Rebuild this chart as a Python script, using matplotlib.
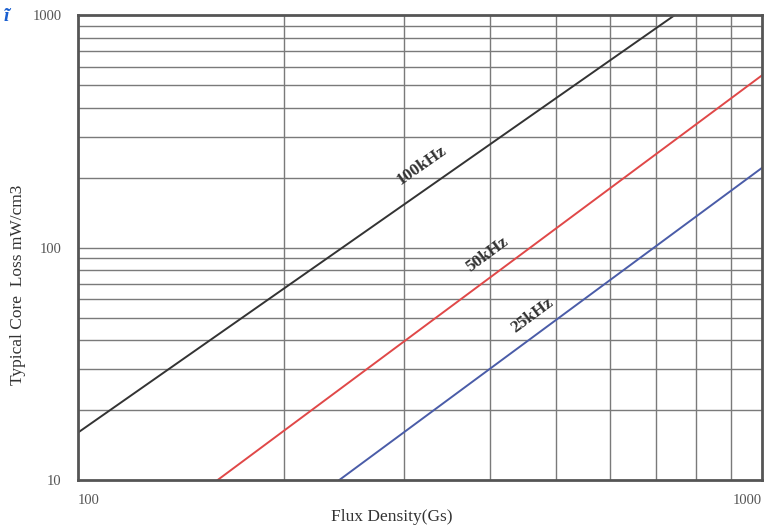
import matplotlib
matplotlib.use("Agg")
import matplotlib.pyplot as plt
from matplotlib.ticker import FixedLocator, NullFormatter, FixedFormatter

plt.rcParams['font.family'] = ['Liberation Serif', 'DejaVu Serif']

# Data: two points per straight line on log-log axes
flux_100k = [100, 746]
loss_100k = [16, 1000]
flux_50k = [160, 1000]
loss_50k = [10, 550]
flux_25k = [241, 1000]
loss_25k = [10, 220]

series_names = ["100kHz", "50kHz", "25kHz"]
label_pos = [(318, 226), (397, 93), (461, 51)]
label_rot = [35, 36.5, 36.5]

x_ticks = [100, 1000]
x_ticklabels = ["100", "1000"]
y_ticks = [10, 100, 1000]
y_ticklabels = ["10", "100", "1000"]

fig = plt.figure(figsize=(7.65, 5.3), dpi=100)
ax = fig.add_axes([0.102, 0.0943, 0.894, 0.8774])
ax.set_xscale('log')
ax.set_yscale('log')
ax.set_xlim(100, 1000)
ax.set_ylim(10, 1000)

# grid
xminor = [200, 300, 400, 500, 600, 700, 800, 900]
yminor = [v * d for d in (10, 100) for v in range(2, 10)] + [100]
for xv in xminor:
    ax.axvline(xv, color='#7a7a7a', lw=1.0, zorder=1)
for yv in yminor:
    ax.axhline(yv, color='#7a7a7a', lw=1.0, zorder=1)

colors = ['#333333', '#e04848', '#4a5ca8']
ax.plot(flux_100k, loss_100k, color=colors[0], lw=1.4, zorder=3)
ax.plot(flux_50k, loss_50k, color=colors[1], lw=1.4, zorder=3)
ax.plot(flux_25k, loss_25k, color=colors[2], lw=1.4, zorder=3)

for name, (px, py), rot in zip(series_names, label_pos, label_rot):
    ax.text(px, py, name, rotation=rot, rotation_mode='anchor', ha='center', va='center',
            fontsize=12.5, fontweight='bold', color='#333333', zorder=4)

ax.xaxis.set_major_locator(FixedLocator(x_ticks))
ax.xaxis.set_major_formatter(FixedFormatter(x_ticklabels))
ax.xaxis.set_minor_locator(FixedLocator([]))
ax.xaxis.set_minor_formatter(NullFormatter())
ax.yaxis.set_major_locator(FixedLocator(y_ticks))
ax.yaxis.set_major_formatter(FixedFormatter(y_ticklabels))
ax.yaxis.set_minor_locator(FixedLocator([]))
ax.yaxis.set_minor_formatter(NullFormatter())
ax.tick_params(axis='both', length=0, labelsize=10.5, labelcolor='#555555')
ax.tick_params(axis='x', pad=10)
ax.tick_params(axis='y', pad=12)
xt = ax.get_xticklabels()
xt[0].set_ha('left')
xt[1].set_ha('right')

for s in ax.spines.values():
    s.set_color('#555555')
    s.set_linewidth(2.0)
    s.set_zorder(5)

ax.set_xlabel('Flux Density(Gs)', fontsize=12.5, color='#333333')
ax.set_ylabel('Typical Core  Loss mW/cm3', fontsize=12.5, color='#333333')
ax.xaxis.set_label_coords(0.459, -0.062)
ax.yaxis.set_label_coords(-0.076, 0.42)

fig.text(0.005, 0.985, 'ĩ', color='#1a5fd0', fontsize=14, fontweight='bold',
         fontstyle='italic', ha='left', va='top')

fig.savefig('out.png', dpi=100)
